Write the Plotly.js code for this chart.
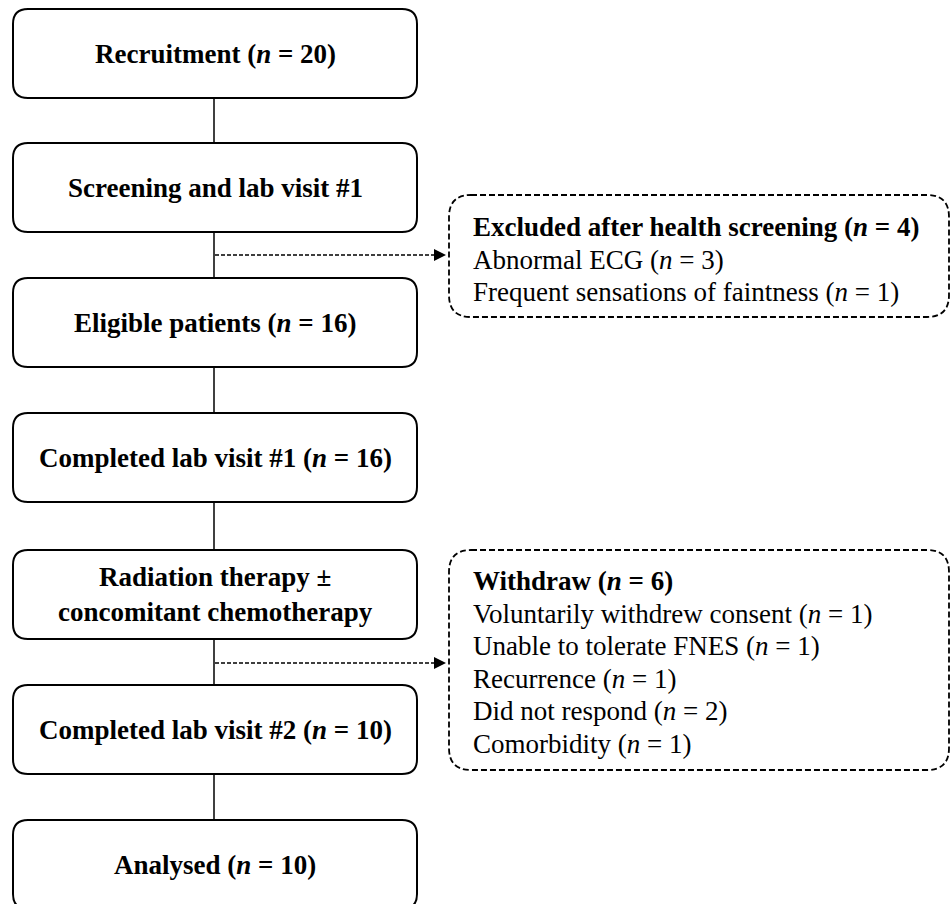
<!DOCTYPE html>
<html>
<head>
<meta charset="utf-8">
<script src="https://cdn.plot.ly/plotly-3.0.1.min.js"></script>
<style>html,body{margin:0;padding:0;background:#fff;}#chart{width:951px;height:904px;}</style>
</head>
<body>
<div id="chart"></div>
<script>
// ---- data ----
const stepLabels = ['Recruitment', 'Screening and lab visit #1', 'Eligible patients', 'Completed lab visit #1',
  'Radiation therapy ±<br>concomitant chemotherapy', 'Completed lab visit #2', 'Analysed'];
const stepN = [20, null, 16, 16, null, 10, 10];
const excludedTitle = 'Excluded after health screening';
const excludedTotal = 4;
const excludedReasons = ['Abnormal ECG', 'Frequent sensations of faintness'];
const excludedN = [3, 1];
const withdrawTitle = 'Withdraw';
const withdrawTotal = 6;
const withdrawReasons = ['Voluntarily withdrew consent', 'Unable to tolerate FNES', 'Recurrence', 'Did not respond', 'Comorbidity'];
const withdrawN = [1, 1, 1, 2, 1];

// ---- layout geometry ----
const W = 951, H = 904;
const boxX0 = 13, boxX1 = 417;
const boxTops = [9, 143, 278, 413, 550, 685, 820];
const boxH = 89;
const connX = 214;
const sideX0 = 449, sideX1 = 949;
const sideBoxes = [{y0: 195, y1: 317, textTop: 227}, {y0: 550, y1: 770, textTop: 581}];
const arrowY = [255, 663];
const FONT = 'Liberation Serif, Times New Roman, serif';
const FS = 27;
const LINE = 32.5;

function rr(x0, y0, x1, y1, r) {
  return `M${x0+r},${y0} L${x1-r},${y0} Q${x1},${y0} ${x1},${y0+r} L${x1},${y1-r} Q${x1},${y1} ${x1-r},${y1} ` +
         `L${x0+r},${y1} Q${x0},${y1} ${x0},${y1-r} L${x0},${y0+r} Q${x0},${y0} ${x0+r},${y0} Z`;
}
const nTxt = (v) => `(<i>n</i> = ${v})`;

const shapes = [];
const annotations = [];

// main boxes
stepLabels.forEach((lab, i) => {
  const y0 = boxTops[i], y1 = y0 + boxH;
  shapes.push({type: 'path', path: rr(boxX0, y0, boxX1, y1, 15), xref: 'x', yref: 'y',
    line: {color: '#000', width: 2}, fillcolor: 'rgba(0,0,0,0)'});
  const txt = stepN[i] == null ? lab : `${lab} ${nTxt(stepN[i])}`;
  annotations.push({x: (boxX0 + boxX1) / 2, y: (y0 + y1) / 2, xref: 'x', yref: 'y', showarrow: false,
    text: `<b>${txt}</b>`, font: {family: FONT, size: FS, color: '#000'}, xanchor: 'center', yanchor: 'middle'});
  if (i < stepLabels.length - 1) {
    shapes.push({type: 'line', x0: connX, x1: connX, y0: y1, y1: boxTops[i + 1], xref: 'x', yref: 'y',
      line: {color: '#000', width: 1.5}});
  }
});

// side boxes + dashed arrows
const sideContent = [
  {title: excludedTitle, total: excludedTotal, reasons: excludedReasons, n: excludedN},
  {title: withdrawTitle, total: withdrawTotal, reasons: withdrawReasons, n: withdrawN}
];
sideBoxes.forEach((sb, k) => {
  shapes.push({type: 'path', path: rr(sideX0, sb.y0, sideX1, sb.y1, 22), xref: 'x', yref: 'y',
    line: {color: '#000', width: 1.8, dash: '6px,3px'}, fillcolor: 'rgba(0,0,0,0)'});
  const ay = arrowY[k];
  shapes.push({type: 'line', x0: connX + 1, x1: sideX0 - 10, y0: ay, y1: ay, xref: 'x', yref: 'y',
    line: {color: '#000', width: 1.3, dash: '4px,2px'}});
  shapes.push({type: 'path', path: `M${sideX0 - 3},${ay} L${sideX0 - 15},${ay - 6} L${sideX0 - 15},${ay + 6} Z`,
    xref: 'x', yref: 'y', line: {color: '#000', width: 0}, fillcolor: '#000'});
  const c = sideContent[k];
  const lines = [`<b>${c.title} ${nTxt(c.total)}</b>`].concat(c.reasons.map((r, j) => `${r} ${nTxt(c.n[j])}`));
  lines.forEach((t, j) => {
    annotations.push({x: 471, y: sb.textTop + j * LINE, xref: 'x', yref: 'y', showarrow: false, text: t,
      font: {family: FONT, size: FS, color: '#000'}, xanchor: 'left', yanchor: 'middle'});
  });
});

const layout = {
  width: W, height: H,
  margin: {l: 0, r: 0, t: 0, b: 0, pad: 0},
  paper_bgcolor: '#fff', plot_bgcolor: '#fff',
  xaxis: {range: [0, W], visible: false, fixedrange: true},
  yaxis: {range: [H, 0], visible: false, fixedrange: true},
  shapes: shapes, annotations: annotations, showlegend: false
};
Plotly.newPlot('chart', [], layout, {displayModeBar: false, staticPlot: true});
</script>
</body>
</html>
